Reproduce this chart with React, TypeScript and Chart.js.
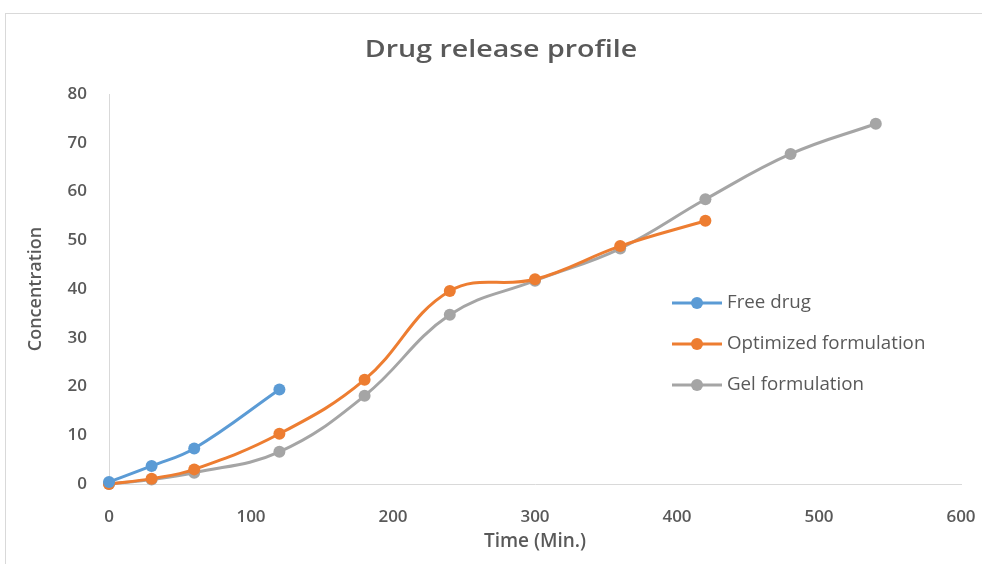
import React, { useEffect, useRef } from "react";
import { Chart, registerables } from "chart.js";

Chart.register(...registerables);

const chartTitle = "Drug release profile";
const xAxisTitle = "Time (Min.)";
const yAxisTitle = "Concentration";

const freeDrugTimes = [0, 30, 60, 120];
const freeDrugValues = [0.4, 3.7, 7.3, 19.4];

const optimizedTimes = [0, 30, 60, 120, 180, 240, 300, 360, 420];
const optimizedValues = [0, 1.1, 3.0, 10.3, 21.4, 39.6, 42.0, 48.8, 54.0];

const gelTimes = [0, 30, 60, 120, 180, 240, 300, 360, 420, 480, 540];
const gelValues = [0, 0.9, 2.3, 6.6, 18.1, 34.7, 41.7, 48.3, 58.4, 67.7, 73.9];

const seriesNames = ["Free drug", "Optimized formulation", "Gel formulation"];
const seriesColors = ["#5B9BD5", "#ED7D31", "#A5A5A5"];

const xMin = 0, xMax = 600, xStep = 100;
const yMin = 0, yMax = 80, yStep = 10;

const FONT = "'Open Sans'";
const TEXT = "#595959";

const toPoints = (xs: number[], ys: number[]) => xs.map((x, i) => ({ x, y: ys[i] }));

function stretchedText(ctx: CanvasRenderingContext2D, text: string, x: number, y: number, sx: number) {
  ctx.save();
  ctx.translate(x, y);
  ctx.scale(sx, 1);
  ctx.fillText(text, 0, 0);
  ctx.restore();
}

const overlayPlugin = {
  id: "overlay",
  afterDraw(chart: any) {
    const ctx = chart.ctx as CanvasRenderingContext2D;
    ctx.save();
    // title
    ctx.fillStyle = TEXT;
    ctx.font = `600 24px ${FONT}`;
    ctx.textAlign = "center";
    ctx.textBaseline = "middle";
    stretchedText(ctx, chartTitle, 501, 50, 1.19);
    // legend
    const lx = 672, lw = 50, ys = [303, 344, 385];
    ctx.font = `normal 18px ${FONT}`;
    ctx.textAlign = "left";
    seriesNames.forEach((name, i) => {
      const y = ys[i];
      ctx.strokeStyle = seriesColors[i];
      ctx.lineWidth = 3;
      ctx.beginPath();
      ctx.moveTo(lx, y);
      ctx.lineTo(lx + lw, y);
      ctx.stroke();
      ctx.fillStyle = seriesColors[i];
      ctx.beginPath();
      ctx.arc(lx + lw / 2, y, 6, 0, Math.PI * 2);
      ctx.fill();
      ctx.fillStyle = TEXT;
      stretchedText(ctx, name, lx + lw + 5, y, 1.04);
    });
    ctx.restore();
  },
};

export default function App() {
  const ref = useRef<HTMLCanvasElement>(null);
  useEffect(() => {
    if (!ref.current) return;
    const sets = [
      toPoints(freeDrugTimes, freeDrugValues),
      toPoints(optimizedTimes, optimizedValues),
      toPoints(gelTimes, gelValues),
    ];
    const chart = new Chart(ref.current, {
      type: "line",
      data: {
        datasets: sets.map((d, i) => ({
          label: seriesNames[i],
          data: d,
          borderColor: seriesColors[i],
          backgroundColor: seriesColors[i],
          borderWidth: 3,
          pointRadius: 6,
          pointBorderWidth: 0,
          pointBackgroundColor: seriesColors[i],
          tension: 0.4,
          fill: false,
          clip: false as any,
        })),
      },
      options: {
        responsive: false,
        animation: false,
        devicePixelRatio: 1,
        layout: { padding: { left: 14, right: 21, top: 94, bottom: 10 } },
        plugins: {
          legend: { display: false },
          title: { display: false },
          tooltip: { enabled: false },
        },
        scales: {
          x: {
            type: "linear",
            min: xMin,
            max: xMax,
            grid: { display: false, drawTicks: false },
            border: { display: true, color: "#D9D9D9", width: 1 },
            ticks: {
              stepSize: xStep,
              color: TEXT,
              padding: 23,
              font: { family: FONT, size: 17, weight: "600" },
            },
            title: {
              display: true,
              text: xAxisTitle,
              color: TEXT,
              font: { family: FONT, size: 19, weight: "600" },
              padding: { top: 4, bottom: 1 },
            },
            afterFit: (s: any) => {
              s.height = 564 - 10 - 484;
              s.paddingRight = 0;
              s.paddingLeft = 0;
            },
          },
          y: {
            type: "linear",
            min: yMin,
            max: yMax,
            grid: { display: false, drawTicks: false },
            border: { display: true, color: "#D9D9D9", width: 1 },
            ticks: {
              stepSize: yStep,
              color: TEXT,
              padding: 22,
              font: { family: FONT, size: 17, weight: "600" },
            },
            title: {
              display: true,
              text: yAxisTitle,
              color: TEXT,
              font: { family: FONT, size: 18, weight: "600" },
              padding: { top: 11, bottom: 0 },
            },
            afterFit: (s: any) => { s.width = 109 - 14; },
          },
        },
      },
      plugins: [overlayPlugin],
    });
    return () => chart.destroy();
  }, []);
  return (
    <div style={{ position: "absolute", left: 0, top: 0, width: 982, height: 564, background: "#fff", overflow: "hidden" }}>
      <div style={{ position: "absolute", left: 5, top: 13, width: 1000, height: 600, border: "1px solid #D9D9D9", boxSizing: "border-box" }} />
      <canvas ref={ref} width={982} height={564} style={{ position: "absolute", left: 0, top: 0, width: 982, height: 564 }} />
    </div>
  );
}
